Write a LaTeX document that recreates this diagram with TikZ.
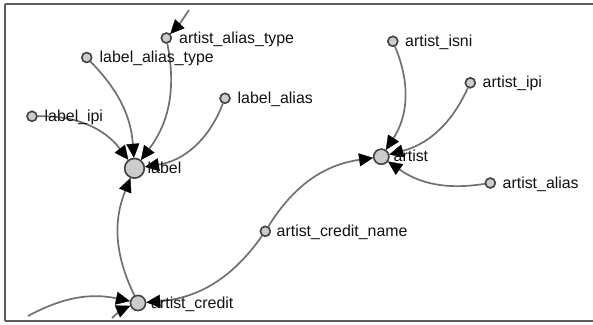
\documentclass[tikz,border=0pt]{standalone}
\usepackage{fontspec}
\setmainfont{Liberation Sans}
\usetikzlibrary{arrows.meta}
\definecolor{edgec}{HTML}{707070}
\definecolor{nodefill}{HTML}{CCCCCC}
\definecolor{nodedraw}{HTML}{444444}
\definecolor{framec}{HTML}{5A5A5A}
\definecolor{textc}{HTML}{111111}
\tikzset{
  bignode/.style={circle, fill=nodefill, draw=nodedraw, line width=1.5pt, minimum size=15pt, inner sep=0pt},
  hugenode/.style={bignode, minimum size=19.5pt},
  smallnode/.style={circle, fill=nodefill, draw=nodedraw, line width=1.5pt, minimum size=9.8pt, inner sep=0pt},
  lbl/.style={anchor=base west, inner sep=0pt, text=textc, font=\fontsize{15.9pt}{18pt}\selectfont},
  edge/.style={draw=edgec, line width=1.7pt, -{Triangle[length=14pt,width=13pt,fill=black,color=black,line width=0.3pt]}}
}
\begin{document}
\begin{tikzpicture}[x=1pt,y=1pt]
\useasboundingbox (0,0) rectangle (593,-324);
% frame
\draw[framec, line width=2pt] (5,-4) -- (593,-4);
\draw[framec, line width=2pt] (5,-4) -- (5,-321);
\draw[framec, line width=2pt] (5,-321) -- (593,-321);
% nodes
\node[hugenode]  (label) at (134.5,-168.3) {};
\node[bignode]   (artist) at (381.3,-156.7) {};
\node[bignode]   (ac) at (138,-303) {};
\node[smallnode] (aat) at (166.3,-38) {};
\node[smallnode] (lat) at (86.7,-57.5) {};
\node[smallnode] (lipi) at (32,-116.3) {};
\node[smallnode] (lalias) at (225,-98.3) {};
\node[smallnode] (aisni) at (392.8,-41.3) {};
\node[smallnode] (aipi) at (470.3,-82.8) {};
\node[smallnode] (aalias) at (490.3,-183) {};
\node[smallnode] (acn) at (265.3,-231.3) {};
\coordinate (top1) at (189,-10);
\coordinate (left1) at (28,-316);
\coordinate (bot1) at (112,-318);
% edges
\draw[edge] (top1) to[bend left=5] (aat);
\draw[edge] (lipi) to[bend left=27] (label);
\draw[edge] (lat) to[bend left=20] (label);
\draw[edge] (aat) to[bend left=24] (label);
\draw[edge] (lalias) to[bend left=30] (label);
\draw[edge] (ac) to[bend left=24] (label);
\draw[edge] (acn) to[bend left=25] (artist);
\draw[edge] (acn) to[bend left=25] (ac);
\draw[edge] (left1) to[bend left=20] (ac);
\draw[edge] (bot1) to[bend left=10] (ac);
\draw[edge] (aisni) to[bend left=28] (artist);
\draw[edge] (aipi) to[bend left=25] (artist);
\draw[edge] (aalias) to[bend left=22] (artist);
% redraw nodes on top
\foreach \n/\s in {label/hugenode,artist/bignode,ac/bignode,aat/smallnode,lat/smallnode,lipi/smallnode,lalias/smallnode,aisni/smallnode,aipi/smallnode,aalias/smallnode,acn/smallnode}{
  \path (\n) node[\s] {};
}
% labels
\node[lbl] (t-label) at (147.5,-173.3) {label};
\node[lbl] (t-artist) at (393.5,-161.7) {artist};
\node[lbl] (t-ac) at (151,-308) {artist\_credit};
\node[lbl] (t-aat) at (179,-43) {artist\_alias\_type};
\node[lbl] (t-lat) at (99.5,-62.5) {label\_alias\_type};
\node[lbl] (t-lipi) at (44.5,-121.3) {label\_ipi};
\node[lbl] (t-lalias) at (237.5,-103.3) {label\_alias};
\node[lbl] (t-aisni) at (405,-46.3) {artist\_isni};
\node[lbl] (t-aipi) at (482.5,-87.8) {artist\_ipi};
\node[lbl] (t-aalias) at (502.5,-188) {artist\_alias};
\node[lbl] (t-acn) at (276.5,-236.3) {artist\_credit\_name};
\end{tikzpicture}
\end{document}
